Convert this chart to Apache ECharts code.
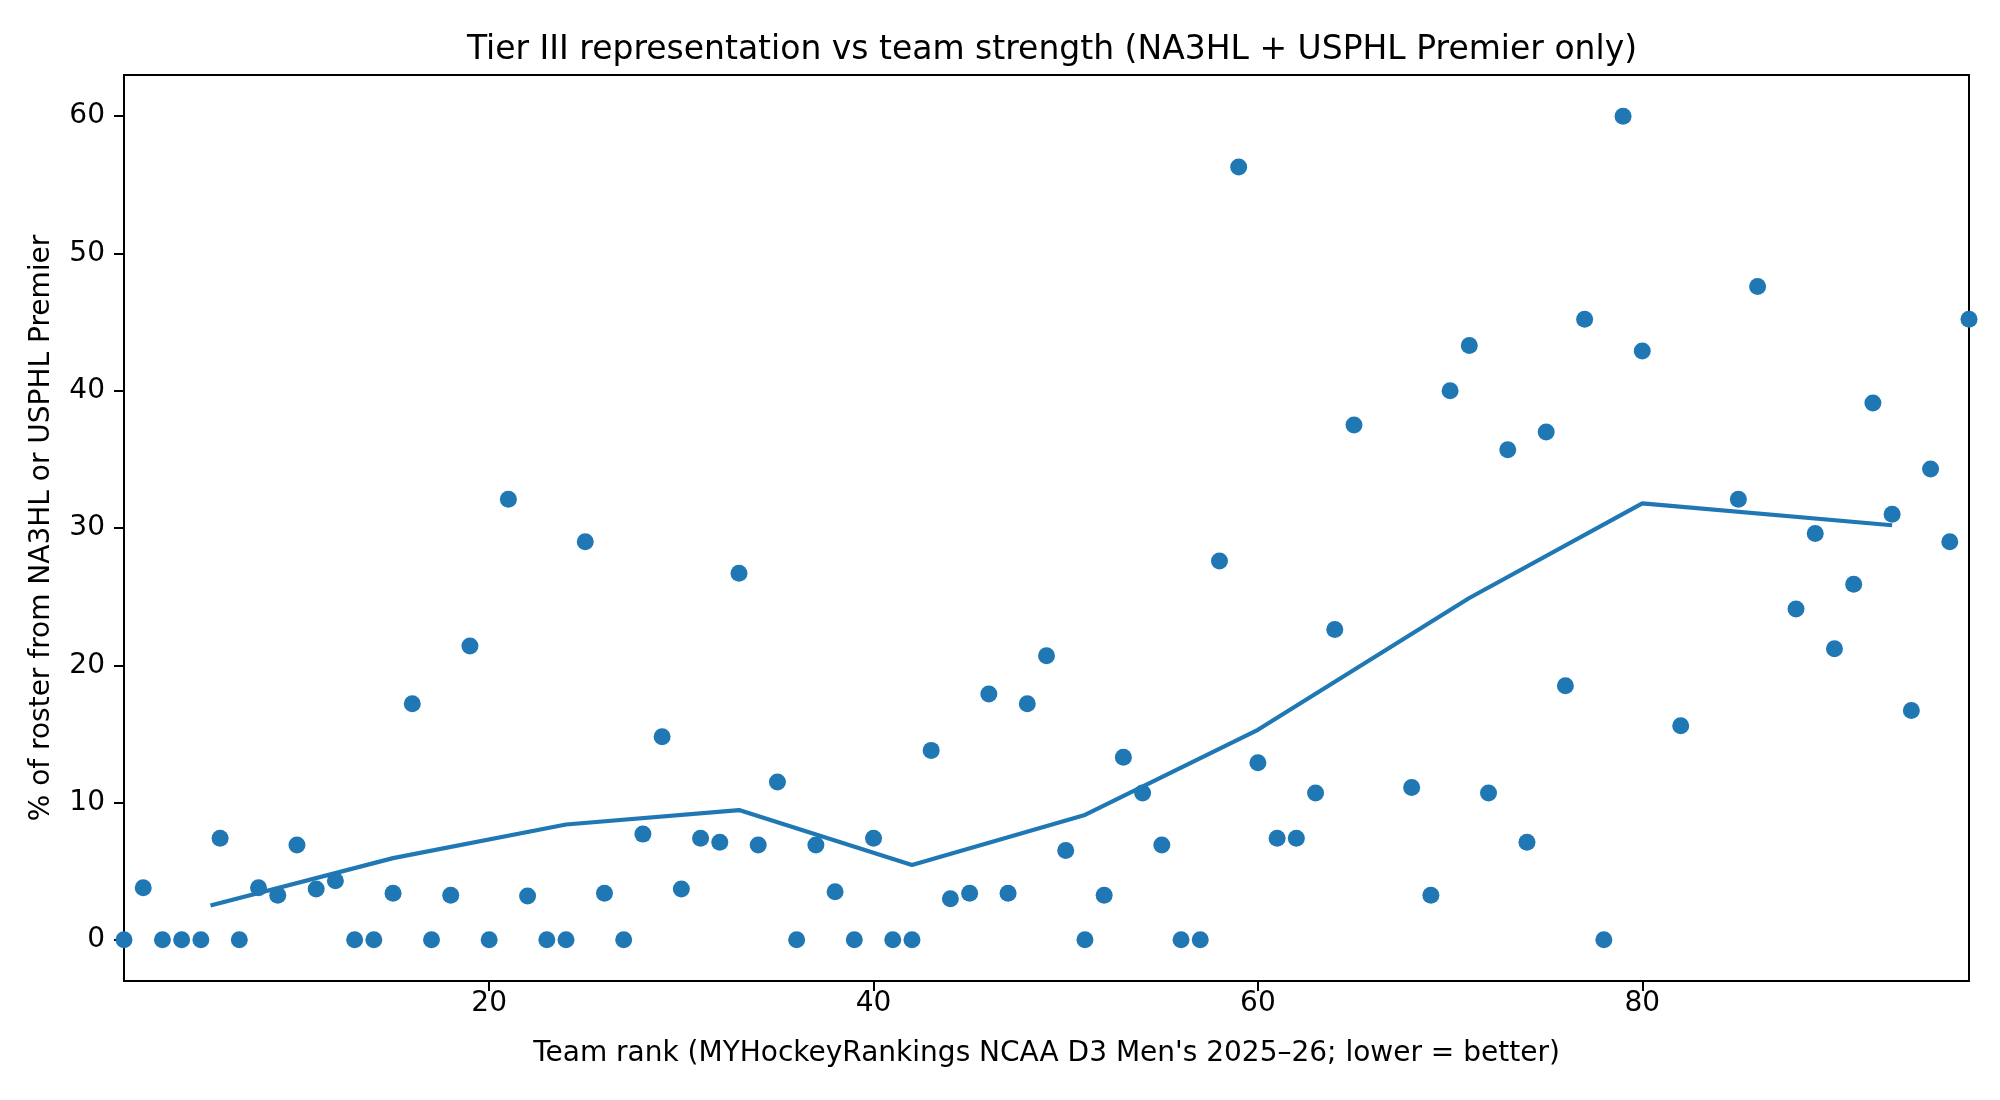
<!DOCTYPE html>
<html>
<head>
<meta charset="utf-8">
<script src="https://cdn.jsdelivr.net/npm/echarts@6/dist/echarts.min.js"></script>
<style>
html,body{margin:0;padding:0;background:#fff;}
#chart{width:2000px;height:1100px;}
</style>
</head>
<body>
<div id="chart"></div>
<script>
// Team ranks (x) and % of roster from NA3HL/USPHL Premier (y)
var ranks = [1,2,3,4,5,6,7,8,9,10,11,12,13,14,15,16,17,18,19,20,21,22,23,24,25,26,27,28,29,30,
  31,32,33,34,35,36,37,38,39,40,41,42,43,44,45,46,47,48,49,50,51,52,53,54,55,56,57,58,59,60,
  61,62,63,64,65,68,69,70,71,72,73,74,75,76,77,78,79,80,82,85,86,88,89,90,91,92,93,94,95,96,97];
var pctTier3 = [0,3.8,0,0,0,7.4,0,3.8,3.25,6.9,3.7,4.3,0,0,3.4,17.2,0,3.25,21.4,0,32.1,3.2,0,0,29.0,3.4,0,7.7,14.8,3.7,
  7.4,7.1,26.7,6.9,11.5,0,6.9,3.5,0,7.4,0,0,13.8,3.0,3.4,17.9,3.4,17.2,20.7,6.5,0,3.25,13.3,10.7,6.9,0,0,27.6,56.3,12.9,
  7.4,7.4,10.7,22.6,37.5,11.1,3.25,40.0,43.3,10.7,35.7,7.1,37.0,18.5,45.2,0,60.0,42.9,15.6,32.1,47.6,24.1,29.6,21.2,25.9,39.1,31.0,16.7,34.3,29.0,45.2];
// Binned trend line
var trendRank = [5.5, 15, 24, 33, 42, 51, 60, 71, 80, 93];
var trendPct = [2.5, 5.95, 8.4, 9.45, 5.45, 9.1, 15.3, 24.9, 31.8, 30.2];
// Tick labels
var xTicks = [20, 40, 60, 80];
var yTicks = [0, 10, 20, 30, 40, 50, 60];

var scatterData = ranks.map(function (r, i) { return [r, pctTier3[i]]; });
var lineData = trendRank.map(function (r, i) { return [r, trendPct[i]]; });

var font = 'DejaVu Sans';
var chart = echarts.init(document.getElementById('chart'), null, {renderer: 'canvas'});
chart.setOption({
  animation: false,
  backgroundColor: '#fff',
  title: {
    text: 'Tier III representation vs team strength (NA3HL + USPHL Premier only)',
    left: 1047,
    top: 29,
    textAlign: 'center',
    textStyle: {fontFamily: font, fontSize: 33, fontWeight: 'normal', color: '#000'}
  },
  grid: {
    left: 124, top: 75, right: 31, bottom: 119,
    show: true, borderColor: '#000', borderWidth: 2, backgroundColor: 'transparent',
    containLabel: false
  },
  xAxis: {
    type: 'value', min: 1, max: 97,
    name: "Team rank (MYHockeyRankings NCAA D3 Men's 2025\u201326; lower = better)",
    nameLocation: 'middle', nameGap: 59,
    nameTextStyle: {fontFamily: font, fontSize: 28, color: '#000'},
    axisLine: {show: true, onZero: false, lineStyle: {color: '#000', width: 2}},
    axisTick: {show: true, inside: false, length: 10, lineStyle: {color: '#000', width: 2}, customValues: xTicks},
    axisLabel: {fontFamily: font, fontSize: 28, color: '#000', margin: 9, customValues: xTicks},
    splitLine: {show: false}
  },
  yAxis: {
    type: 'value', min: -3, max: 63,
    name: '% of roster from NA3HL or USPHL Premier',
    nameLocation: 'middle', nameGap: 68, nameRotate: 90,
    nameTextStyle: {fontFamily: font, fontSize: 28, color: '#000'},
    axisLine: {show: true, onZero: false, lineStyle: {color: '#000', width: 2}},
    axisTick: {show: true, inside: false, length: 10, lineStyle: {color: '#000', width: 2}, customValues: yTicks},
    axisLabel: {fontFamily: font, fontSize: 28, color: '#000', margin: 19, customValues: yTicks},
    splitLine: {show: false}
  },
  series: [
    {
      type: 'line', data: lineData, showSymbol: false, symbol: 'none', z: 2,
      lineStyle: {color: '#1f77b4', width: 4.2}, clip: true
    },
    {
      type: 'scatter', data: scatterData, symbol: 'circle', symbolSize: 17, z: 3,
      itemStyle: {color: '#1f77b4', opacity: 1}, clip: true
    }
  ]
});
</script>
</body>
</html>
